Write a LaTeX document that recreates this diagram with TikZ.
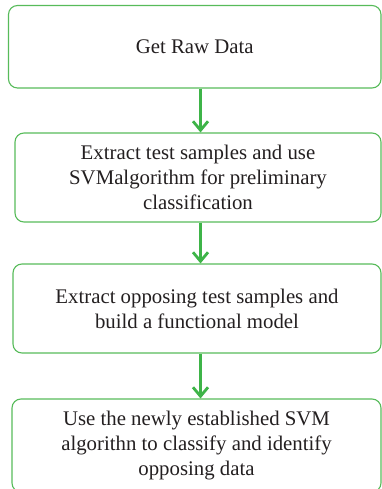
\documentclass[tikz,border=0pt]{standalone}
\usepackage{fontspec}
\setmainfont{Liberation Serif}
\usetikzlibrary{arrows.meta}
\definecolor{boxgreen}{RGB}{87,187,90}
\definecolor{arrowgreen}{RGB}{62,180,72}
\definecolor{inkgray}{RGB}{35,31,32}
\begin{document}
\begin{tikzpicture}[x=1pt,y=-1pt,
  stepbox/.style={draw=boxgreen, line width=1.1pt, rounded corners=9pt,
    align=center, inner sep=0pt, text=inkgray,
    font=\fontsize{20.8}{25}\selectfont},
  flow/.style={draw=arrowgreen, line width=2.8pt,
    -{Straight Barb[length=9pt,width=15pt,line width=2.8pt]}}]
\useasboundingbox (0,0) rectangle (382,489);

\node[stepbox, minimum width=372.5pt, minimum height=82.5pt] (b1) at (194.75,46.75)
  {Get Raw Data};
\node[stepbox, minimum width=366pt, minimum height=89pt] (b2) at (198,177.5)
  {Extract test samples and use\\SVMalgorithm for preliminary\\classification};
\node[stepbox, minimum width=368pt, minimum height=89pt] (b3) at (197,308.5)
  {Extract opposing test samples and\\build a functional model};
\node[stepbox, minimum width=369pt, minimum height=93pt] (b4) at (196.5,445.5)
  {Use the newly established SVM\\algorithn to classify and identify\\opposing data};

\coordinate (ax) at (200.5,0);
\draw[flow] (b1.south -| ax) -- (b2.north -| ax);
\draw[flow] (b2.south -| ax) -- (b3.north -| ax);
\draw[flow] (b3.south -| ax) -- (b4.north -| ax);
\end{tikzpicture}
\end{document}
